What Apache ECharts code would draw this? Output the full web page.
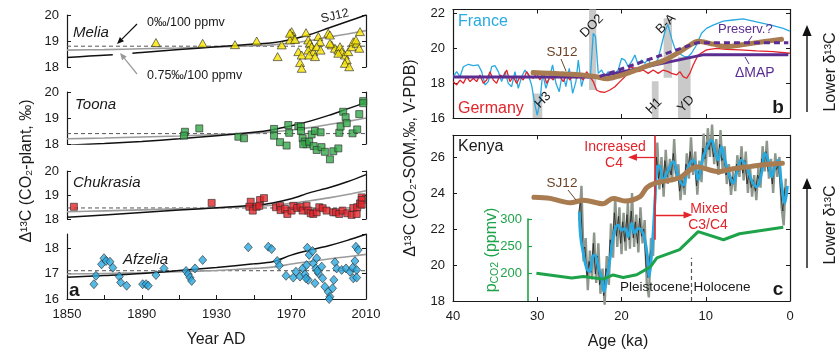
<!DOCTYPE html>
<html><head><meta charset="utf-8">
<script src="https://cdn.jsdelivr.net/npm/echarts@6/dist/echarts.min.js"></script>
<style>html,body{margin:0;padding:0;background:#fff}#c{width:839px;height:351px}</style>
</head><body><div id="c"></div>
<script>
// ---------------- DATA ----------------
// Panel a: model curves (years x values)
const modelYears = [1850,1870,1890,1910,1930,1950,1960,1970,1980,1990,2000,2010];
const meliaSJ12 = [[1850,18.37],[1862,18.42],[1874.5,18.47],[1879,'-'],[1885,18.53],[1890,18.56],[1910,18.67],[1930,18.78],[1950,18.88],[1960,18.93],[1970,19.06],[1980,19.25],[1990,19.5],[2000,19.75],[2010,20.0]];
const meliaGray = [18.65,18.67,18.70,18.73,18.77,18.82,18.85,18.92,19.02,19.15,19.27,19.40];
const meliaFlat = 18.8;
const toonaSJ12 = [17.95,18.02,18.1,18.2,18.32,18.45,18.55,18.7,18.88,19.1,19.35,19.6];
const toonaGray = [18.2,18.23,18.27,18.31,18.36,18.42,18.47,18.54,18.63,18.75,18.87,19.0];
const toonaFlat = 18.4;
const chukSJ12 = [18.07,18.17,18.27,18.37,18.47,18.57,18.67,18.84,19.1,19.3,19.55,19.85];
const chukGray = [18.3,18.34,18.38,18.42,18.46,18.52,18.57,18.65,18.76,18.88,19.02,19.18];
const chukFlat = 18.46;
const afzSJ12 = [16.85,16.92,17.0,17.12,17.24,17.38,17.46,17.72,17.92,18.09,18.3,18.54];
const afzGray = [16.98,17.0,17.03,17.07,17.12,17.2,17.25,17.37,17.47,17.57,17.66,17.75];
const afzFlat = 17.11;

// Panel a: observations [year, Δ13C]
const meliaObs = [[1897.6,18.94],[1922.6,18.91],[1939.9,18.86],[1951.5,19.0],[1962.7,18.40],[1964.9,18.85],[1970.2,19.36],[1970.8,19.19],[1969.3,19.04],[1969.3,19.3],[1972,19.06],[1973.8,18.59],[1975.6,18.46],[1974.7,18.17],[1975.6,17.95],[1977.9,19.32],[1979.1,19.04],[1980,18.91],[1980.9,18.78],[1979.1,18.65],[1981.8,18.59],[1979.6,18.46],[1982.7,18.4],[1984.5,19.17],[1985.4,18.97],[1983.6,18.78],[1985.7,18.65],[1989.8,19.3],[1990.7,19.23],[1991.6,18.85],[1993.4,18.72],[1995.2,18.65],[1996.1,18.78],[1997,18.59],[1998.7,18.46],[1999.7,18.27],[1998.7,18.14],[2001,18.01],[2000.5,18.59],[2002.3,18.78],[2003.2,18.97],[2005,18.91],[2006.8,19.36],[2006.4,18.72],[2004.6,19.04],[1990.7,18.91],[1995.2,18.53]];
const toonaObs = [[1913.1,18.47],[1912.6,18.32],[1920.8,18.6],[1941.7,18.28],[1944.7,18.22],[1960.8,18.58],[1960.8,18.32],[1964,18.07],[1967.5,17.94],[1968.4,18.73],[1968.9,18.43],[1973.8,18.69],[1975.2,18.67],[1975.2,18.5],[1976.1,18.22],[1977.3,18.09],[1978.2,17.99],[1976.4,17.99],[1979.6,18.09],[1980.9,18.37],[1982.7,18.5],[1985.7,18.45],[1982,17.92],[1983.6,17.77],[1986.2,17.88],[1988,17.7],[1990.7,17.41],[1992.5,17.72],[1995.2,17.83],[1995.7,18.43],[1996.4,18.67],[1997.8,19.24],[1999.1,19.03],[1999.7,18.8],[2002.8,18.41],[2005.3,18.56],[2006.4,19.15],[2008.5,19.65],[2008.5,19.57]];
const chukObs = [[1853.7,18.51],[1927.4,18.67],[1948.3,18.72],[1947.6,18.51],[1949.4,18.35],[1951.5,18.51],[1953.3,18.79],[1955.4,18.87],[1952.9,18.55],[1961.8,18.49],[1964,18.55],[1964.3,18.37],[1966.6,18.42],[1967.9,18.21],[1970.2,18.35],[1971.1,18.55],[1973.2,18.46],[1975,18.51],[1976.1,18.35],[1978.2,18.55],[1979.1,18.35],[1980.4,18.24],[1981.8,18.21],[1983.6,18.28],[1985,18.49],[1986.8,18.45],[1988.9,18.35],[1992.5,18.28],[1993.9,18.28],[1995.7,18.21],[1997.5,18.35],[2000,18.24],[2002.3,18.17],[2003.2,18.46],[2005,18.21],[2005.3,18.49],[2006.8,18.65],[2007.7,18.9],[2007.7,18.79],[2007.7,18.6]];
const afzObs = [[1864.4,16.58],[1865.5,16.91],[1868.5,17.36],[1869.8,17.6],[1870.9,17.49],[1873,17.46],[1874.5,17.23],[1878,16.88],[1878.7,16.65],[1881.9,16.52],[1890.5,16.58],[1892.3,16.58],[1893.5,16.52],[1897.6,16.94],[1901.9,17.2],[1913.7,17.1],[1914.9,16.97],[1915.8,16.84],[1916.7,16.71],[1918.5,17.2],[1922.6,17.53],[1947,18.03],[1957.7,18.05],[1959.5,17.96],[1962.5,17.49],[1963.6,17.31],[1967.2,16.91],[1971.1,16.84],[1972.5,17.07],[1974.7,16.88],[1976.1,17.2],[1977.3,16.97],[1978.2,17.33],[1978.6,18.01],[1979.6,17.73],[1981.4,17.88],[1979.1,16.75],[1977.9,16.81],[1981.8,17.4],[1983.2,17.2],[1982.7,16.62],[1984.5,17.01],[1986.3,17.27],[1986.8,16.81],[1988,16.48],[1989.8,16.28],[1990.7,16.09],[1990.3,16.0],[1992.1,16.42],[1992.8,16.75],[1993.4,17.44],[1994.3,17.2],[1997,17.14],[1999.3,17.2],[2001.4,17.07],[2002.9,17.23],[2003.2,16.81],[2004.6,18.05],[2005.8,17.92],[2004.1,17.49],[2005,17.14],[2005,16.84],[1983.6,17.6],[1984,17.1]];

// Panel b: [age ka, Δ13C]
const france = [[39.96,18.36],[39.57,18.65],[39.17,18.36],[38.77,18.93],[38.18,19.07],[37.59,18.99],[37.0,19.03],[36.6,18.65],[36.2,17.89],[35.81,18.08],[35.41,18.93],[35.02,18.99],[34.62,18.65],[34.23,18.08],[33.83,18.65],[33.44,17.98],[33.04,17.79],[32.65,18.65],[32.25,17.70],[31.85,18.36],[31.46,18.74],[31.06,18.46],[30.67,17.89],[30.27,16.74],[30.0,16.17],[29.68,16.93],[29.36,18.55],[28.97,17.70],[28.57,18.27],[28.18,19.03],[27.78,17.98],[27.39,17.50],[26.99,18.65],[26.6,17.79],[26.2,18.84],[25.8,17.41],[25.41,18.08],[25.13,19.31],[24.74,17.79],[24.34,18.55],[23.95,18.27],[23.67,18.55],[23.35,20.84],[23.08,20.65],[22.76,18.55],[22.36,18.74],[21.97,18.36],[21.57,18.65],[21.18,18.17],[20.78,18.55],[20.39,18.74],[19.99,19.41],[19.6,19.31],[19.2,18.93],[18.81,19.22],[18.41,19.6],[18.02,19.03],[17.62,19.31],[17.22,19.12],[16.83,19.41],[16.43,18.93],[16.04,19.03],[15.64,19.41],[15.25,20.17],[14.85,20.93],[14.5,21.35],[14.06,20.55],[13.67,19.98],[13.27,19.79],[12.87,19.6],[12.48,19.5],[12.08,19.5],[11.69,19.7],[11.1,20.17],[10.5,20.84],[9.91,21.12],[9.12,21.31],[7.93,21.54],[6.75,21.6],[5.56,21.66],[4.37,21.54],[3.19,21.41],[2.0,21.28],[0.81,21.12],[0.02,20.97]];
const germany = [[39.96,18.08],[39.57,17.89],[39.17,18.17],[38.77,17.98],[38.38,18.36],[37.98,18.08],[37.59,18.27],[37.19,18.08],[36.8,18.46],[36.4,17.98],[36.01,18.17],[35.61,18.65],[35.22,18.17],[34.82,17.98],[34.42,18.46],[34.03,18.36],[33.63,18.74],[33.24,18.08],[32.84,18.36],[32.45,17.98],[32.05,18.36],[31.66,18.17],[31.26,18.65],[30.87,18.36],[30.47,18.27],[30.08,18.55],[29.68,18.17],[29.28,18.65],[28.89,17.98],[28.49,18.36],[28.1,18.17],[27.7,18.55],[27.31,18.36],[26.91,18.08],[26.52,18.46],[26.12,18.17],[25.73,18.55],[25.33,18.27],[24.93,18.36],[24.54,18.17],[24.14,18.65],[23.75,18.36],[23.35,18.08],[22.96,17.6],[22.56,17.5],[21.97,17.47],[21.38,17.6],[20.78,17.79],[20.19,18.08],[19.6,18.36],[19.0,18.93],[18.41,18.84],[18.02,18.65],[17.42,18.74],[16.83,18.55],[16.24,18.74],[15.64,18.55],[15.05,18.74],[14.46,18.65],[14.06,18.55],[13.47,18.46],[13.07,18.65],[12.68,18.36],[12.28,18.27],[11.89,18.55],[11.49,19.03],[10.9,19.6],[9.91,19.89],[8.72,19.98],[7.54,19.92],[5.96,19.89],[3.98,19.83],[2.0,19.79],[0.02,19.7]];
const sj12Europe = [[30.5,18.6],[28.5,18.56],[26.5,18.52],[24.5,18.45],[23,18.36],[21.8,18.24],[20.6,18.36],[18.6,18.68],[16.6,19.03],[15,19.28],[13.1,19.78],[11.9,20.15],[10.9,20.38],[9.1,20.22],[7.5,20.08],[5.5,20.2],[3.2,20.36],[1.0,20.5]];
const dMAP = [[40,18.35],[22.8,18.35],[10.2,19.62],[0.2,19.62]];
const preserv = [[22.6,18.37],[11,20.3],[0.2,20.3]];
// [from ka, to ka, low, high]
const eventNames = ['H3','DO2','H1','B-A','YD'];
const eventBars = [[30.55,29.4,16,17.4],[23.85,23.0,17.6,22.2],[16.4,15.6,16,18.1],[15.0,14.0,18.3,21.7],[13.3,11.8,16,19.5]];

// Panel c: Kenya
const kenyaRawGray = [[25.0,22.5],[24.75,24.4],[24.5,20.2],[24.25,21.5],[24.0,18.6],[23.75,20.8],[23.5,19.2],[23.25,21.8],[23.0,19.0],[22.75,21.2],[22.5,18.4],[22.25,19.8],[22.0,17.8],[21.75,20.5],[21.5,18.9],[21.25,22.3],[21.0,20.4],[20.75,23.8],[20.5,21.0],[20.25,23.2],[20.0,20.6],[19.75,22.9],[19.5,20.8],[19.25,23.5],[19.0,20.9],[18.75,24.0],[18.5,21.0],[18.25,22.8],[18.0,20.7],[17.75,23.2],[17.5,21.2],[17.25,22.5],[17.0,19.0],[16.75,18.2],[16.5,21.5],[16.25,20.5],[16.0,24.0],[15.75,26.8],[15.5,24.2],[15.25,26.0],[15.0,23.8],[14.75,26.4],[14.5,24.5],[14.25,25.9],[14.0,24.6],[13.75,27.0],[13.5,24.8],[13.25,25.6],[13.0,23.6],[12.75,25.0],[12.5,23.9],[12.25,26.2],[12.0,24.8],[11.75,27.1],[11.5,25.0],[11.25,26.3],[11.0,23.9],[10.75,25.8],[10.5,24.6],[10.25,27.3],[10.0,25.4],[9.75,27.6],[9.5,26.0],[9.25,27.8],[9.0,25.6],[8.75,27.0],[8.5,25.0],[8.25,27.5],[8.0,25.3],[7.75,26.6],[7.5,24.5],[7.25,25.6],[7.0,23.9],[6.75,25.2],[6.5,24.1],[6.25,26.1],[6.0,24.9],[5.75,26.6],[5.5,24.7],[5.25,26.3],[5.0,24.0],[4.75,25.5],[4.5,23.8],[4.25,25.0],[4.0,23.6],[3.75,25.4],[3.5,24.3],[3.25,26.6],[3.0,25.2],[2.75,26.9],[2.5,24.8],[2.25,25.9],[2.0,24.0],[1.75,26.2],[1.5,24.9],[1.25,26.0],[1.0,23.2],[0.75,22.2],[0.5,24.8]];
const kenyaRawBlack = [[25.1,22.8],[24.85,23.6],[24.6,20.8],[24.35,21.0],[24.1,19.3],[23.85,20.2],[23.6,19.6],[23.35,21.2],[23.1,19.5],[22.85,20.5],[22.6,18.9],[22.35,19.4],[22.1,18.3],[21.85,19.8],[21.6,19.3],[21.35,21.4],[21.1,20.9],[20.85,22.9],[20.6,21.6],[20.35,22.7],[20.1,21.2],[19.85,22.4],[19.6,21.3],[19.35,22.8],[19.1,21.4],[18.85,23.0],[18.6,21.5],[18.35,22.4],[18.1,21.2],[17.85,22.6],[17.6,21.6],[17.35,22.0],[17.1,20.0],[16.85,19.3],[16.6,20.6],[16.35,21.0],[16.1,23.0],[15.85,26.0],[15.6,24.8],[15.35,25.5],[15.1,24.3],[14.85,25.8],[14.6,24.9],[14.35,25.4],[14.1,25.0],[13.85,26.2],[13.6,25.1],[13.35,25.2],[13.1,24.1],[12.85,24.7],[12.6,24.3],[12.35,25.6],[12.1,25.2],[11.85,26.3],[11.6,25.4],[11.35,25.8],[11.1,24.4],[10.85,25.2],[10.6,25.0],[10.35,26.5],[10.1,25.9],[9.85,26.8],[9.6,26.4],[9.35,27.0],[9.1,26.0],[8.85,26.5],[8.6,25.5],[8.35,26.7],[8.1,25.8],[7.85,26.0],[7.6,25.0],[7.35,25.3],[7.1,24.4],[6.85,24.9],[6.6,24.6],[6.35,25.6],[6.1,25.2],[5.85,26.0],[5.6,25.1],[5.35,25.8],[5.1,24.5],[4.85,25.1],[4.6,24.3],[4.35,24.7],[4.1,24.1],[3.85,25.0],[3.6,24.7],[3.35,25.9],[3.1,25.6],[2.85,26.3],[2.6,25.2],[2.35,25.4],[2.1,24.5],[1.85,25.7],[1.6,25.3],[1.35,25.6],[1.1,24.0],[0.85,23.0],[0.6,24.3]];
const kenyaSmooth = [[25.01,22.96],[24.86,21.57],[24.54,20.65],[24.14,19.81],[23.75,19.63],[23.43,20.46],[23.16,20.56],[22.76,19.91],[22.36,19.26],[22.09,18.52],[21.85,18.98],[21.57,19.72],[21.26,20.65],[20.98,21.57],[20.66,22.13],[20.39,22.22],[19.99,21.94],[19.6,22.04],[19.2,21.57],[18.81,22.31],[18.41,21.76],[18.02,22.04],[17.62,21.94],[17.22,21.39],[16.91,20.46],[16.71,19.35],[16.51,20.09],[16.23,21.94],[16.0,23.8],[15.76,25.46],[15.5,25.5],[15.05,24.72],[14.46,25.28],[13.86,25.74],[13.27,24.9],[12.68,24.44],[12.08,25.46],[11.49,25.83],[10.9,24.72],[10.5,25.65],[9.91,26.48],[9.32,26.94],[8.93,26.39],[8.53,25.83],[8.13,26.57],[7.73,25.83],[7.14,24.9],[6.75,24.54],[6.35,25.09],[5.76,25.83],[5.16,25.46],[4.57,24.72],[3.98,24.35],[3.38,25.09],[2.99,26.2],[2.59,25.83],[2.2,24.9],[1.8,25.46],[1.41,25.83],[1.01,24.54],[0.62,23.43],[0.3,24.4]];
const sj12Kenya = [[30.4,23.76],[28.5,23.7],[26.1,23.46],[24.5,23.6],[22.2,23.4],[21,23.7],[19.6,23.55],[17.8,23.8],[17.0,24.3],[16.0,24.55],[13.1,24.85],[11.1,25.46],[8.5,25.18],[6.75,25.35],[4.6,25.48],[2.8,25.58],[0.9,25.65]];
const pco2 = [[30.1,200.6],[25.9,192],[24.5,195],[22.2,190],[21,197.6],[19.8,193],[18.2,198],[16.6,212],[15.8,229],[13.1,244],[10.9,277],[7.9,262],[6,273],[0.8,285]];
const c4Boundary = {age:16.0, low:21.4, high:27.2};
const c4ArrowY = 25.98, c4ArrowTo = 18.7;
const mixArrowY = 22.78, mixArrowTo = 12.1;
const holoBoundary = {age:11.7, low:18, high:20.4};

// tick settings
const yearTicks = {min:1850, max:2010, step:20, labelStep:40};
const ageTicks = {min:0, max:40, step:10};

// ---------------- CHART ----------------
const FONT = '"Liberation Sans", Arial, Helvetica, sans-serif';
const INK = '#1a1a1a';
const pair = (xs, ys) => xs.map((x,i)=>[x, ys[i]]);
const flat = (v) => [[1850, v],[2010, v]];

const chart = echarts.init(document.getElementById('c'), null, {renderer:'canvas'});

const aLeft = 67, aRight = 839-366;
const bcLeft = 453, bcRight = 839-790;
const grids = [
  {left:aLeft, right:aRight, top:15, height:52},
  {left:aLeft, right:aRight, top:92, height:52},
  {left:aLeft, right:aRight, top:171, height:48},
  {left:aLeft, right:aRight, top:234, height:65},
  {left:bcLeft, right:bcRight, top:9.5, height:108.5},
  {left:bcLeft, right:bcRight, top:135.4, height:165.6},
  {left:bcLeft, right:bcRight, top:219, height:82}
];

const lineCol = {lineStyle:{color:INK, width:1.2}};
const tickIn = {show:true, inside:true, length:4, lineStyle:{color:INK, width:1}};
const lbl = {color:INK, fontSize:13, fontFamily:FONT};

function yAx(grid, min, max, interval, pos, hideMax) {
  return {
    type:'value', gridIndex:grid, min, max, interval, position:pos,
    axisLine:Object.assign({show:true, onZero:false}, lineCol),
    axisTick:tickIn,
    axisLabel: pos==='left' ? Object.assign({margin:8, showMaxLabel:!hideMax}, lbl) : {show:false},
    splitLine:{show:false}
  };
}
function xAgeAx(grid, pos, showLabel) {
  return {type:'value', gridIndex:grid, min:ageTicks.min, max:ageTicks.max, interval:ageTicks.step, inverse:true, position:pos,
    axisLine:Object.assign({show:true, onZero:false}, lineCol), axisTick:tickIn,
    axisLabel: showLabel ? Object.assign({margin:9}, lbl) : {show:false}, splitLine:{show:false}};
}
const hiddenYearX = (g) => ({type:'value', gridIndex:g, min:yearTicks.min, max:yearTicks.max, show:false, splitLine:{show:false}});

const xAxis = [
  hiddenYearX(0), hiddenYearX(1), hiddenYearX(2),
  {type:'value', gridIndex:3, min:yearTicks.min, max:yearTicks.max, interval:yearTicks.step, position:'bottom',
    axisLine:Object.assign({show:true, onZero:false}, lineCol), axisTick:tickIn,
    axisLabel:Object.assign({margin:9, formatter:v => ((v-yearTicks.min)%yearTicks.labelStep===0 ? String(v) : '')}, lbl),
    splitLine:{show:false}},
  xAgeAx(4,'bottom',false), xAgeAx(4,'top',false),
  xAgeAx(5,'bottom',true), xAgeAx(5,'top',false),
  {type:'value', gridIndex:6, min:ageTicks.min, max:ageTicks.max, inverse:true, show:false, splitLine:{show:false}}
];
const GREEN = '#1fa34a';
const yAxis = [
  yAx(0,18,20,1,'left'), yAx(0,18,20,1,'right'),
  yAx(1,18,20,1,'left'), yAx(1,18,20,1,'right'),
  yAx(2,18,20,1,'left'), yAx(2,18,20,1,'right'),
  yAx(3,16,18.55,1,'left',true), yAx(3,16,18.55,1,'right'),
  yAx(4,16,22.2,2,'left',true), yAx(4,16,22.2,2,'right'),
  yAx(5,18,27.2,2,'left',true), yAx(5,18,27.2,2,'right'),
  {type:'value', gridIndex:6, min:150, max:300, interval:50, position:'left', offset:-75,
    axisLine:{show:true, onZero:false, lineStyle:{color:GREEN, width:1.6}},
    axisTick:{show:true, inside:true, length:4, lineStyle:{color:GREEN, width:1.2}},
    axisLabel:{color:GREEN, fontSize:13, fontFamily:FONT, margin:6, showMinLabel:false},
    splitLine:{show:false}}
];

const series = [];
function modelSet(xi, yi, sj, gray, fl) {
  series.push({type:'line', xAxisIndex:xi, yAxisIndex:yi, data:flat(fl), showSymbol:false, silent:true,
    lineStyle:{color:'#555', width:1, type:[4,3]}, z:2});
  series.push({type:'line', xAxisIndex:xi, yAxisIndex:yi, data:pair(modelYears, gray), showSymbol:false, smooth:0.3, silent:true,
    lineStyle:{color:'#9b9b9b', width:1.6}, z:3});
  series.push({type:'line', xAxisIndex:xi, yAxisIndex:yi, data: Array.isArray(sj[0]) ? sj : pair(modelYears, sj), showSymbol:false, smooth:0.3, silent:true,
    connectNulls:false, lineStyle:{color:'#111', width:1.5}, z:4});
}
function obs(xi, yi, data, symbol, size, color) {
  series.push({type:'scatter', xAxisIndex:xi, yAxisIndex:yi, data, symbol, symbolSize:size, clip:false, silent:true,
    itemStyle:{color, borderColor:'#2a2a2a', borderWidth:0.8}, z:6});
}
modelSet(0,0,meliaSJ12,meliaGray,meliaFlat); obs(0,0,meliaObs,'triangle',[9,8],'#f7e400');
modelSet(1,2,toonaSJ12,toonaGray,toonaFlat); obs(1,2,toonaObs,'rect',7,'#35a849');
modelSet(2,4,chukSJ12,chukGray,chukFlat); obs(2,4,chukObs,'rect',7,'#e3262b');
modelSet(3,6,afzSJ12,afzGray,afzFlat); obs(3,6,afzObs,'diamond',[8,9],'#2aa9e0');

// Panel b
const BLUE = '#27a9e1', RED = '#e3242b', BROWN = '#a87c50', PURPLE = '#5c2d91';
series.push({type:'custom', xAxisIndex:4, yAxisIndex:8, data:eventBars, silent:true, z:1,
  encode:{x:[0,1], y:[2,3]},
  renderItem:(params, api) => {
    const p1 = api.coord([api.value(0), api.value(3)]);
    const p2 = api.coord([api.value(1), api.value(2)]);
    return {type:'rect', shape:{x:Math.min(p1[0],p2[0]), y:Math.min(p1[1],p2[1]), width:Math.abs(p2[0]-p1[0]), height:Math.abs(p2[1]-p1[1])},
      style:{fill:'#c9c9c9'}};
  }});
series.push({type:'line', xAxisIndex:4, yAxisIndex:8, data:france, showSymbol:false, silent:true, lineStyle:{color:BLUE, width:1.3}, z:3});
series.push({type:'line', xAxisIndex:4, yAxisIndex:8, data:germany, showSymbol:false, silent:true, lineStyle:{color:RED, width:1.3}, z:4});
series.push({type:'line', xAxisIndex:4, yAxisIndex:8, data:dMAP, showSymbol:false, silent:true, lineStyle:{color:PURPLE, width:3}, z:5});
series.push({type:'line', xAxisIndex:4, yAxisIndex:8, data:sj12Europe, showSymbol:false, smooth:0.3, silent:true, lineStyle:{color:BROWN, width:5, cap:'round'}, z:6});
series.push({type:'line', xAxisIndex:4, yAxisIndex:8, data:preserv, showSymbol:false, silent:true, lineStyle:{color:PURPLE, width:3, type:[6,4]}, z:7});

// Panel c
series.push({type:'line', xAxisIndex:6, yAxisIndex:10, data:kenyaRawGray, showSymbol:false, silent:true, clip:false, lineStyle:{color:'#8e978b', width:2.4}, z:2});
series.push({type:'line', xAxisIndex:6, yAxisIndex:10, data:kenyaRawBlack, showSymbol:false, silent:true, clip:false, lineStyle:{color:'#222', width:0.8}, z:3});
series.push({type:'line', xAxisIndex:6, yAxisIndex:10, data:kenyaSmooth, showSymbol:false, smooth:0.4, silent:true, lineStyle:{color:BLUE, width:2.8}, z:4,
  markLine:{silent:true, label:{show:false}, symbol:['none','none'], animation:false,
    data:[
      [{coord:[c4Boundary.age, c4Boundary.low], lineStyle:{color:RED, width:1.6, type:'solid'}}, {coord:[c4Boundary.age, c4Boundary.high]}],
      [{coord:[c4Boundary.age, c4ArrowY], symbol:'none', lineStyle:{color:RED, width:1.3, type:'solid'}}, {coord:[c4ArrowTo, c4ArrowY], symbol:'triangle', symbolSize:[7,9]}],
      [{coord:[c4Boundary.age, mixArrowY], symbol:'none', lineStyle:{color:RED, width:1.3, type:'solid'}}, {coord:[mixArrowTo, mixArrowY], symbol:'triangle', symbolSize:[7,9]}],
      [{coord:[holoBoundary.age, holoBoundary.low], lineStyle:{color:'#555', width:1.2, type:[4,3]}}, {coord:[holoBoundary.age, holoBoundary.high]}]
    ]}});
series.push({type:'line', xAxisIndex:6, yAxisIndex:10, data:sj12Kenya, showSymbol:false, smooth:0.3, silent:true, lineStyle:{color:BROWN, width:5, cap:'round'}, z:6});
series.push({type:'line', xAxisIndex:8, yAxisIndex:12, data:pco2, showSymbol:false, silent:true, lineStyle:{color:GREEN, width:3}, z:6});

// ---------------- ANNOTATIONS ----------------
function T(text, x, y, o) {
  o = o || {};
  const font = `${o.italic?'italic':'normal'} ${o.bold?'bold':'normal'} ${o.size||13}px ${FONT}`;
  const st = {text, x:0, y:0, fill:o.color||INK, font, align:o.align||'left', verticalAlign:'middle',
    textAlign:o.align||'left', textVerticalAlign:'middle'};
  if (o.rich) st.rich = o.rich;
  return {type:'text', x, y, rotation:o.rot||0, z:100, silent:true, style:st};
}
function L(x1,y1,x2,y2,color,w,dash) {
  return {type:'line', z:100, silent:true, shape:{x1,y1,x2,y2}, style:{stroke:color, lineWidth:w||1, lineDash:dash||null}};
}
function A(x1,y1,x2,y2,color,head,w) {
  const dx=x2-x1, dy=y2-y1, len=Math.hypot(dx,dy), ux=dx/len, uy=dy/len;
  const bx=x2-ux*head, by=y2-uy*head, hw=head*0.42;
  return [L(x1,y1,bx,by,color,w),
    {type:'polygon', z:100, silent:true, shape:{points:[[x2,y2],[bx-uy*hw,by+ux*hw],[bx+uy*hw,by-ux*hw]]}, style:{fill:color}}];
}
const R = Math.PI/2;
const evLabelPos = [[543,100],[592,26],[654,106],[666,24],[686,104]];
const graphic = [
  // panel a
  T('Melia', 73, 33, {italic:true, size:15}),
  T('Toona', 75, 105, {italic:true, size:15}),
  T('Chukrasia', 73, 183, {italic:true, size:15}),
  T('Afzelia', 123, 260, {italic:true, size:15}),
  T('a', 69, 291, {bold:true, size:19}),
  T('0‰/100 ppmv', 147, 23, {size:12.5}),
  T('0.75‰/100 ppmv', 147, 76, {size:12.5}),
  T('SJ12', 335, 16, {size:12.5, align:'center', rot:0.22}),
  ...A(137,24,117,44,'#111',7,1.2),
  ...A(137,74,120,53,'#999',7,1.2),
  T('Δ¹³C (CO₂-plant, ‰)', 27, 171, {size:16, align:'center', rot:R}),
  T('Year AD', 216, 340, {size:16, align:'center'}),
  // panel b
  T('France', 458, 22, {size:16, color:BLUE}),
  T('Germany', 458, 109, {size:16, color:RED}),
  T('b', 778, 108, {bold:true, size:19, align:'center'}),
  T('SJ12', 562, 52, {size:13.5, align:'center', color:'#6b4428'}),
  L(561,59,566,71,'#6b4428',1),
  T('Preserv.?', 718, 29, {size:13, color:PURPLE}),
  L(752,36,748,42,PURPLE,1),
  T('ΔMAP', 735, 73, {size:14, color:PURPLE}),
  L(749,64,745,57,PURPLE,1),
  ...eventNames.map((n,i) => T(n, evLabelPos[i][0], evLabelPos[i][1], {size:13, align:'center', rot:Math.PI/4})),
  // panel c
  T('Kenya', 458, 147, {size:16}),
  T('Increased', 615, 147, {size:14, align:'center', color:RED}),
  T('C4', 614, 163, {size:14, align:'center', color:RED}),
  T('Mixed', 709, 209, {size:14, align:'center', color:RED}),
  T('C3/C4', 708, 225, {size:14, align:'center', color:RED}),
  T('SJ12', 562, 183, {size:13.5, align:'center', color:'#6b4428'}),
  L(568,190,576,200,'#6b4428',1),
  T('Pleistocene', 655, 287, {size:13.5, align:'center'}),
  T('Holocene', 722, 287, {size:13.5, align:'center'}),
  T('c', 778, 290, {bold:true, size:19, align:'center'}),
  T('{n|p}{s|CO2}{n| (ppmv)}', 492, 250, {align:'center', rot:R, color:GREEN,
    rich:{n:{fontSize:16, fontFamily:FONT, fill:GREEN, lineHeight:18}, s:{fontSize:10.5, fontFamily:FONT, fill:GREEN, lineHeight:8, verticalAlign:'bottom'}}}),
  T('Δ¹³C (CO₂-SOM,‰, V-PDB)', 411, 158, {size:16, align:'center', rot:R}),
  T('Age (ka)', 618, 342, {size:16, align:'center'}),
  ...A(807,112,807,25,'#111',11,1.4),
  T('Lower δ¹³C', 831, 72, {size:16, align:'center', rot:R}),
  ...A(807,268,807,178,'#111',11,1.4),
  T('Lower δ¹³C', 831, 225, {size:16, align:'center', rot:R})
];

chart.setOption({animation:false, backgroundColor:'#fff', grid:grids, xAxis, yAxis, series, graphic});
</script></body></html>
